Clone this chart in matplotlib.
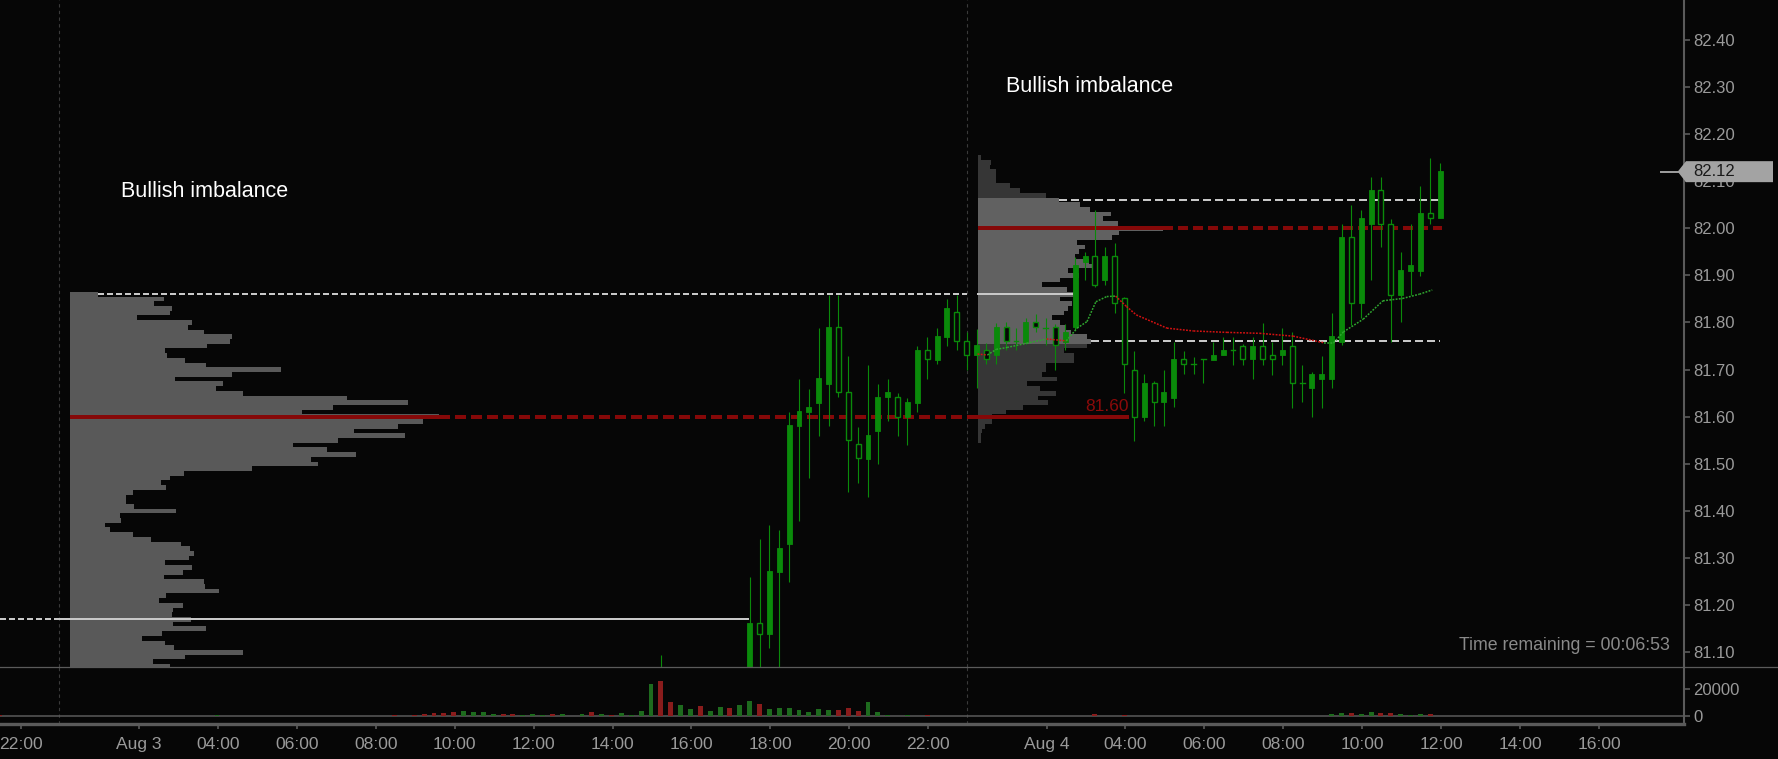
import numpy as np
import matplotlib
matplotlib.use('Agg')
import matplotlib.pyplot as plt
from matplotlib.patches import Rectangle, Polygon
from matplotlib.lines import Line2D

W, H = 1778, 759
BG = '#060606'
GRID = '#5a5a5a'
TXT = '#9a9a9a'
GREEN = '#0a8a0a'
VGREEN = '#1e6b1e'
VRED = '#8a1c1c'
POC = '#850808'
VA = '#c8c8c8'
PXB = 9.864          # pixels per bar

# ---- volume, one value per 15 min bar (index 0 = Aug 2 21:30) ----
volume = [900, 300, 300, 300, 0, 300, 300, 0, 0, 0, 0, 0, 0, 0, 0, 300, 0, 0, 0, 0,
          0, 300, 1000, 300, 0, 0, 0, 0, 0, 0, 0, 0, 0, 300, 0, 0, 0, 300, 300, 300,
          1000, 300, 1000, 1700, 2400, 2400, 3100, 3900, 3100, 3100, 1700, 1700, 1700, 1000, 1700, 1000, 1700, 1700, 300, 1700,
          3100, 1700, 1000, 2400, 1000, 3900, 23400, 25600, 10400, 8200, 5300, 7500, 3900, 6800, 6000, 8200, 11100, 8900, 5300, 6000,
          6000, 4600, 3100, 5300, 4600, 4600, 6000, 3900, 10400, 3100, 1000, 300, 1000, 300, 1000, 300, 300, 300, 300, 0,
          0, 0, 0, 0, 0, 0, 0, 300, 0, 300, 0, 1700, 300, 300, 1000, 300, 300, 0, 300, 300,
          0, 0, 0, 0, 0, 0, 0, 0, 0, 0, 0, 300, 300, 300, 300, 1700, 2400, 2400, 1700, 3100,
          2400, 2400, 1700, 1000, 1700, 1700, 300]
# bars that closed down (red volume); every other bar is up (green)
down_bars = [0, 1, 3, 5, 15, 23, 37, 38, 40, 42, 43, 44, 45, 46, 51, 52, 56, 58, 60, 62,
             67, 68, 71, 74, 77, 85, 86, 87, 91, 94, 97, 98, 107, 111, 113, 114, 115,
             131, 137, 140, 141, 145]

# ---- candles (bar index, open, high, low, close) ----
candle_idx = [67] + list(range(76, 147))
opens = [81.05, 81.04, 81.162, 81.140, 81.271, 81.331, 81.581, 81.611, 81.630, 81.670, 81.790,
         81.652, 81.542, 81.511, 81.570, 81.641, 81.641, 81.600, 81.630, 81.741, 81.721,
         81.770, 81.822, 81.760, 81.730, 81.741, 81.730, 81.791, 81.760, 81.759, 81.802,
         81.789, 81.790, 81.759, 81.790, 81.929, 81.941, 81.890, 81.941, 81.851, 81.700,
         81.600, 81.671, 81.631, 81.640, 81.722, 81.711, 81.722, 81.721, 81.730, 81.741,
         81.751, 81.722, 81.751, 81.730, 81.730, 81.751, 81.671, 81.660, 81.681, 81.681,
         81.759, 81.981, 81.841, 82.010, 82.081, 82.010, 81.858, 81.910, 81.910, 82.032, 82.021]
highs = [81.095, 81.261, 81.340, 81.370, 81.359, 81.609, 81.680, 81.659, 81.788, 81.858, 81.858,
         81.728, 81.578, 81.709, 81.669, 81.680, 81.650, 81.640, 81.750, 81.769, 81.788,
         81.849, 81.858, 81.780, 81.786, 81.757, 81.799, 81.800, 81.789, 81.809, 81.819,
         81.809, 81.797, 81.797, 81.938, 81.950, 82.039, 81.961, 81.968, 81.855, 81.739,
         81.691, 81.675, 81.699, 81.759, 81.739, 81.727, 81.722, 81.759, 81.769, 81.769,
         81.755, 81.769, 81.799, 81.759, 81.788, 81.780, 81.710, 81.695, 81.729, 81.820,
         82.009, 82.049, 82.039, 82.108, 82.108, 82.020, 81.950, 82.009, 82.090, 82.148, 82.138]
lows = [80.98, 81.03, 81.05, 81.110, 81.065, 81.250, 81.379, 81.471, 81.560, 81.581, 81.641,
        81.441, 81.460, 81.430, 81.500, 81.590, 81.560, 81.541, 81.611, 81.681, 81.711,
        81.750, 81.741, 81.699, 81.660, 81.711, 81.711, 81.742, 81.742, 81.754, 81.780,
        81.752, 81.699, 81.742, 81.784, 81.890, 81.876, 81.880, 81.821, 81.651, 81.549,
        81.590, 81.580, 81.580, 81.620, 81.690, 81.690, 81.671, 81.721, 81.730, 81.710,
        81.710, 81.681, 81.710, 81.689, 81.710, 81.619, 81.631, 81.600, 81.619, 81.660,
        81.752, 81.795, 81.809, 81.890, 81.961, 81.759, 81.800, 81.858, 81.899, 82.010, 82.021]
closes = [81.00, 81.162, 81.140, 81.273, 81.322, 81.582, 81.612, 81.621, 81.682, 81.790, 81.652,
          81.551, 81.512, 81.561, 81.642, 81.652, 81.600, 81.631, 81.742, 81.722, 81.771,
          81.830, 81.760, 81.730, 81.752, 81.722, 81.791, 81.760, 81.760, 81.802, 81.790,
          81.789, 81.752, 81.780, 81.922, 81.941, 81.880, 81.941, 81.841, 81.711, 81.600,
          81.671, 81.631, 81.652, 81.722, 81.711, 81.711, 81.722, 81.730, 81.741, 81.741,
          81.722, 81.751, 81.722, 81.722, 81.741, 81.671, 81.671, 81.691, 81.691, 81.771,
          81.981, 81.841, 82.021, 82.081, 82.010, 81.858, 81.911, 81.922, 82.032, 82.021, 82.121]

# ---- session vwap (bar index, price) ----
vwap_x = [99.1, 100.1, 101.0, 102.1, 104.1, 106.1, 108.1, 109.2, 110.2, 111.1, 112.2, 113.1,
          114.2, 115.2, 118.3, 121.0, 124.4, 127.7, 131.1, 134.2, 135.2, 136.2, 138.2, 140.2,
          142.2, 143.9, 145.2]
vwap_y = [81.733, 81.731, 81.743, 81.747, 81.756, 81.765, 81.761, 81.788, 81.802, 81.844, 81.855,
          81.856, 81.834, 81.816, 81.788, 81.782, 81.779, 81.777, 81.771, 81.757, 81.757, 81.780,
          81.807, 81.846, 81.851, 81.860, 81.869]

# ---- volume profiles (top row price, row lengths in px, 0.01 per row) ----
left_top = 81.86
left_prof = [28, 94, 84, 102, 100, 67, 122, 118, 134, 162,
             160, 137, 95, 97, 115, 136, 211, 162, 105, 153,
             146, 173, 277, 338, 263, 232, 369, 353, 328, 284,
             335, 268, 223, 257, 286, 241, 248, 182, 114, 100,
             91, 96, 63, 56, 56, 64, 106, 50, 51, 35,
             40, 63, 81, 111, 120, 124, 119, 95, 122, 113,
             94, 134, 135, 149, 96, 89, 113, 103, 102, 121,
             103, 136, 92, 72, 95, 104, 173, 115, 83, 100]
right_top = 82.15
right_prof = [3, 13, 12, 18, 18, 18, 32, 42, 68, 81,
              102, 112, 133, 125, 140, 185, 141, 134, 99, 107,
              101, 97, 111, 114, 90, 101, 82, 64, 89, 96,
              82, 94, 90, 86, 74, 82, 87, 93, 109, 113,
              109, 86, 96, 96, 68, 68, 64, 79, 49, 62,
              78, 60, 70, 45, 28, 14, 14, 7, 4, 3,
              3]
right_va = (81.76, 82.06)
left_poc, right_poc = 81.60, 82.00
left_vah, left_val = 81.86, 81.17
right_vah, right_val = 82.06, 81.76
last_price = 82.12

xtick_pos = [2, 14, 22, 30, 38, 46, 54, 62, 70, 78, 86, 94, 106, 114, 122, 130, 138, 146, 154, 162]
xtick_lab = ['22:00', 'Aug 3', '04:00', '06:00', '08:00', '10:00', '12:00', '14:00', '16:00', '18:00',
             '20:00', '22:00', 'Aug 4', '04:00', '06:00', '08:00', '10:00', '12:00', '14:00', '16:00']

plt.rcParams['font.family'] = ['Liberation Sans', 'DejaVu Sans']
fig = plt.figure(figsize=(W / 100, H / 100), dpi=100, facecolor=BG)


def fx(x):
    return x / W


def fy(y):
    return 1 - y / H


ax = fig.add_axes([0, fy(667), fx(1683.7), 667 / H], facecolor=BG)
axv = fig.add_axes([0, fy(723.6), fx(1683.7), (723.6 - 667) / H], facecolor=BG, sharex=ax)
xmax = 1683.7 / PXB
ax.set_xlim(0, xmax)
ax.set_ylim(82.40 - (667 - 39.7) / 471.3, 82.40 + 39.7 / 471.3)
axv.set_ylim(-(7.3 / 27.6) * 20000, (716.3 - 667) / 27.6 * 20000)

# profiles
lp = np.round(left_top - 0.01 * np.arange(len(left_prof)), 2)
ax.barh(lp, np.array(left_prof) / PXB, height=0.01, left=70 / PXB, color='#595959', zorder=1)
rp = np.round(right_top - 0.01 * np.arange(len(right_prof)), 2)
rcol = ['#616161' if right_va[0] <= p <= right_va[1] else '#363636' for p in rp]
ax.barh(rp, np.array(right_prof) / PXB, height=0.01, left=977.7 / PXB, color=rcol, zorder=1)

# session separators
for s in [6.0, 98.05]:
    for a in (ax, axv):
        a.axvline(s, color='#3a3a3a', lw=0.8, ls=(0, (3, 3)), zorder=0.5)


def hline(a, b, y, color, lw_px, dash=None, z=2):
    lw = lw_px * 0.72
    ls = '-' if dash is None else (0, (dash[0] / lw_px, dash[1] / lw_px))
    ax.plot([a, b], [y, y], color=color, lw=lw, ls=ls, zorder=z, solid_capstyle='butt', dash_capstyle='butt')


p2b = lambda px: px / PXB
# point of control lines
hline(p2b(70), p2b(439), left_poc, POC, 4)
hline(p2b(439), p2b(977), left_poc, POC, 4, (11, 5))
hline(p2b(977), p2b(1129), left_poc, POC, 4)
hline(p2b(977.7), p2b(1163), right_poc, POC, 4)
hline(p2b(1163), p2b(1442), right_poc, POC, 4, (10, 5))
# value area lines
hline(p2b(98), p2b(967), left_vah, VA, 2, (6, 3))
hline(p2b(977), p2b(1073), left_vah, VA, 2)
hline(0, p2b(57), left_val, VA, 2, (6, 3))
hline(p2b(57), p2b(749), left_val, VA, 2)
hline(p2b(1059), p2b(1439), right_vah, VA, 2, (8, 4))
hline(p2b(1091), p2b(1440), right_val, VA, 2, (8, 4))

# candles
bw = 0.5
for i, o, h, l, c in zip(candle_idx, opens, highs, lows, closes):
    ax.plot([i, i], [l, h], color=GREEN, lw=0.8, zorder=3, solid_capstyle='butt')
    if abs(c - o) < 1e-4:
        ax.plot([i - bw / 2, i + bw / 2], [o, o], color=GREEN, lw=1.0, zorder=4)
    elif c > o:
        ax.add_patch(Rectangle((i - bw / 2, o), bw, c - o, facecolor=GREEN, edgecolor=GREEN, lw=0.6, zorder=4))
    else:
        ax.add_patch(Rectangle((i - bw / 2, c), bw, o - c, facecolor=BG, edgecolor=GREEN, lw=1.0, zorder=4))

# vwap dotted, green rising / red falling
for k in range(len(vwap_x) - 1):
    col = '#2fa52f' if vwap_y[k + 1] >= vwap_y[k] else '#d41111'
    ax.plot(vwap_x[k:k + 2], vwap_y[k:k + 2], color=col, lw=1.1, ls=(0, (1.2, 0.9)), zorder=5)

# texts
ax.text(p2b(1129), 81.612, '81.60', color='#8b0a0a', fontsize=12.5, ha='right', va='baseline', zorder=6)
ax.text(p2b(1006), 82.289, 'Bullish imbalance', color='white', fontsize=15.5, ha='left', va='baseline', zorder=6)
ax.text(p2b(121), 82.066, 'Bullish imbalance', color='white', fontsize=15.5, ha='left', va='baseline', zorder=6)
fig.text(fx(1670), fy(650), 'Time remaining = 00:06:53', color='#8a8a8a', fontsize=12.8, ha='right', va='baseline')

# volume bars
vcols = [VRED if i in down_bars else VGREEN for i in range(len(volume))]
axv.bar(np.arange(len(volume)), volume, width=0.5, color=vcols, zorder=2)
axv.axhline(0, color=GRID, lw=1.1, zorder=1)

# axes styling
for a in (ax, axv):
    for sp in ['top', 'left', 'bottom']:
        a.spines[sp].set_visible(False)
    a.spines['right'].set_color(GRID)
    a.spines['right'].set_linewidth(1.5)
    a.yaxis.tick_right()
    a.tick_params(axis='y', colors=GRID, labelcolor=TXT, length=4.3, width=1.2, pad=2.4, labelsize=12)
axv.spines['bottom'].set_visible(True)
axv.spines['bottom'].set_color(GRID)
axv.spines['bottom'].set_linewidth(2.4)

yt = np.round(np.arange(81.10, 82.41, 0.1), 2)
ax.set_yticks(yt)
ax.set_yticklabels(['%.2f' % v for v in yt])
ax.tick_params(axis='x', bottom=False, labelbottom=False)
axv.set_yticks([0, 20000])
axv.set_yticklabels(['0', '20000'])
axv.set_xticks(np.array(xtick_pos) + 0.1)
axv.set_xticklabels(xtick_lab, fontsize=12.6)
axv.tick_params(axis='x', colors=GRID, labelcolor=TXT, length=3.6, width=1.2, pad=6)

# panel separator across full width
fig.add_artist(Line2D([0, 1], [fy(666.7), fy(666.7)], transform=fig.transFigure, color=GRID, lw=0.9))

# last price marker
ypx = 39.7 + (82.40 - last_price) * 471.3
fig.add_artist(Line2D([fx(1661), fx(1678)], [fy(ypx), fy(ypx)], transform=fig.transFigure,
                      color='#a0a0a0', lw=1.4, zorder=10))
box = Polygon([[fx(1677.7), fy(ypx)], [fx(1686), fy(ypx - 10.5)], [fx(1773), fy(ypx - 10.5)],
               [fx(1773), fy(ypx + 10.5)], [fx(1686), fy(ypx + 10.5)]], closed=True,
              transform=fig.transFigure, facecolor='#a3a3a3', edgecolor='none', zorder=10)
fig.add_artist(box)
fig.text(fx(1693), fy(ypx), '%.2f' % last_price, color='#1a1a1a', fontsize=12, ha='left', va='center', zorder=11)

fig.savefig('out.png', dpi=100, facecolor=BG)
